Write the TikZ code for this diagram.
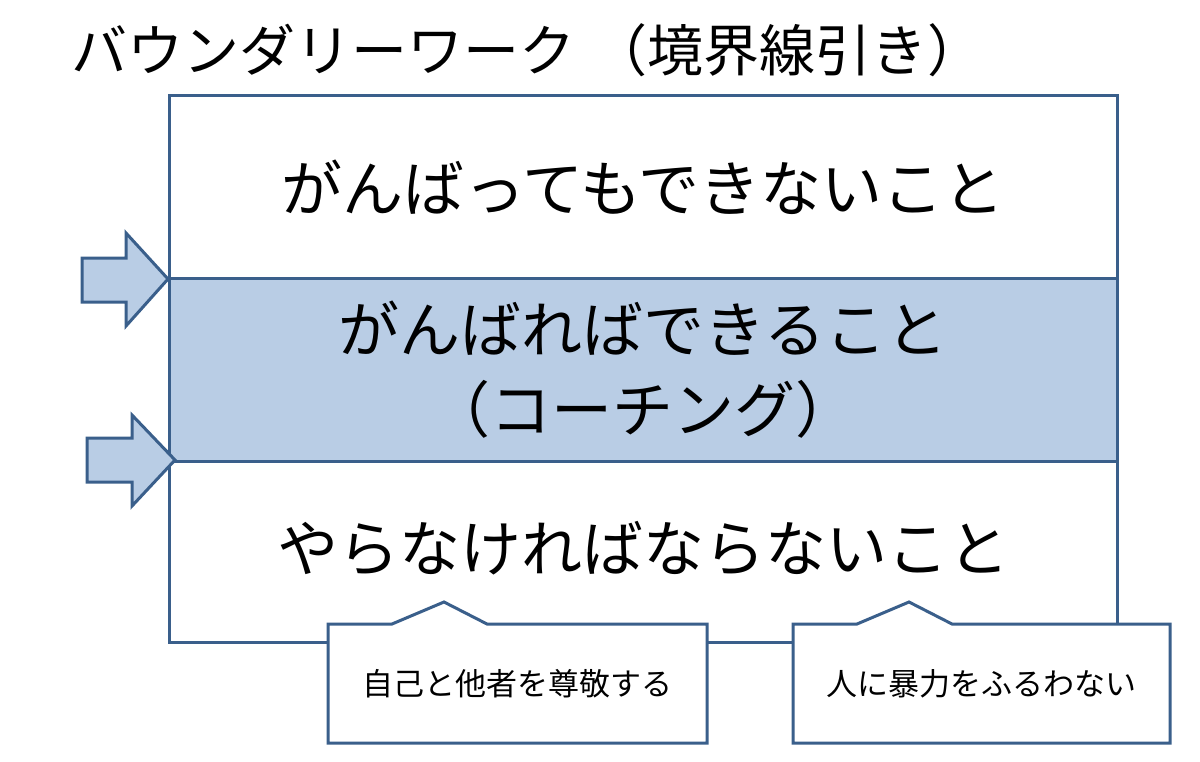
\documentclass[tikz,border=0pt]{standalone}
\usepackage{fontspec}
\setmainfont{Noto Sans CJK JP}
\usepackage{tikz}
\definecolor{edgeblue}{HTML}{3A5F8B}
\definecolor{bandblue}{HTML}{B9CDE5}
\tikzset{
  frame/.style={draw=edgeblue, line width=1.5pt, line join=miter},
  bigtext/.style={font=\fontsize{30.5pt}{40pt}\selectfont, align=center},
  smalltext/.style={font=\fontsize{15.5pt}{20pt}\selectfont}
}

\begin{document}
\begin{tikzpicture}[x=0.5pt,y=-0.5pt]

\useasboundingbox (0,0) rectangle (1200,761);

% outer box and the middle band
\draw [frame, fill=white] (169,95) rectangle (1117,642);
\draw [frame, fill=bandblue] (169,278) rectangle (1117,461);

% arrows on the left
\draw [frame, fill=bandblue] (82,258) -- (126,258) -- (126,233) -- (168,279)
  -- (126,326) -- (126,302) -- (82,302) -- cycle;
\draw [frame, fill=bandblue] (87,438) -- (132,438) -- (132,415) -- (175,460)
  -- (132,506) -- (132,482) -- (87,482) -- cycle;

% callouts
\draw [frame, fill=white] (328,624) -- (392,624) -- (444,602) -- (487,624)
  -- (707,624) -- (707,743) -- (328,743) -- cycle;
\draw [frame, fill=white] (793,624) -- (857,624) -- (909,602) -- (952,624)
  -- (1170,624) -- (1170,743) -- (793,743) -- cycle;

\node (title) [anchor=west, font=\fontsize{28pt}{34pt}\selectfont]
  at (64,50) {バウンダリーワーク\hspace{8pt}（境界線引き）};

\node (cannot) [bigtext] at (643,187) {がんばってもできないこと};
\node (can) [bigtext] at (643,370) {がんばればできること\\（コーチング）};
\node (must) [bigtext] at (643,548) {やらなければならないこと};

\node (respect) [smalltext] at (517.5,683.5) {自己と他者を尊敬する};
\node (noviolence) [smalltext] at (981.5,683.5) {人に暴力をふるわない};

\end{tikzpicture}
\end{document}
